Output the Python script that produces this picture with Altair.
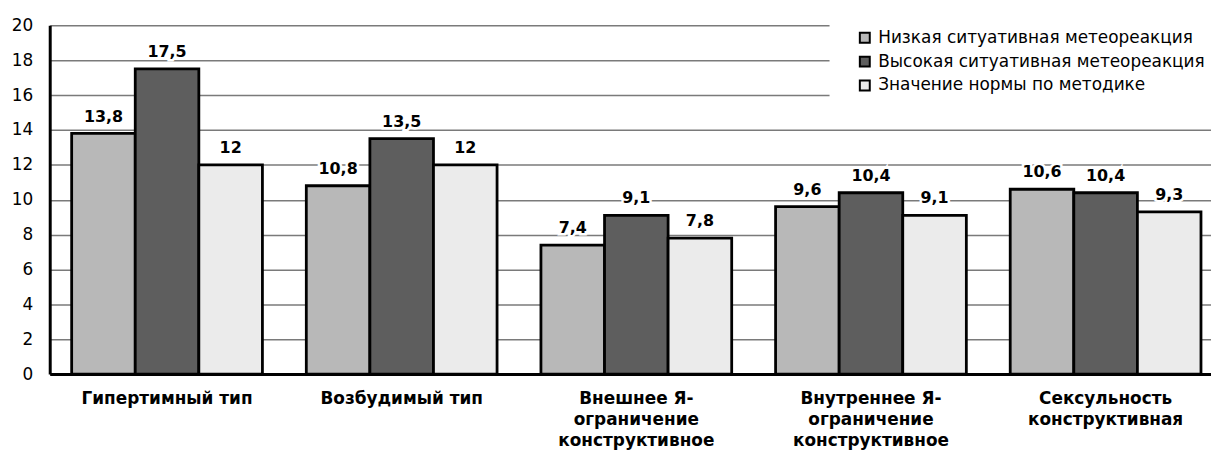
import altair as alt
import pandas as pd

categories = [
    "Гипертимный тип",
    "Возбудимый тип",
    "Внешнее Я-\nограничение\nконструктивное",
    "Внутреннее Я-\nограничение\nконструктивное",
    "Сексульность\nконструктивная",
]
series = [
    "Низкая ситуативная метеореакция",
    "Высокая ситуативная метеореакция",
    "Значение нормы по методике",
]
low = [13.8, 10.8, 7.4, 9.6, 10.6]
high = [17.5, 13.5, 9.1, 10.4, 10.4]
norm = [12, 12, 7.8, 9.1, 9.3]
y_ticks = [0, 2, 4, 6, 8, 10, 12, 14, 16, 18, 20]
fills = ["#b8b8b8", "#5e5e5e", "#ebebeb"]

rows = []
for s, vals in zip(series, [low, high, norm]):
    for c, v in zip(categories, vals):
        lab = ("%g" % v).replace(".", ",")
        rows.append({"cat": c, "series": s, "value": v, "label": lab})
df = pd.DataFrame(rows)

FONT = "DejaVu Sans"

x_enc = alt.X(
    "cat:N",
    sort=categories,
    scale=alt.Scale(range=[0, 1181], paddingInner=0.187, paddingOuter=0.0935),
    axis=alt.Axis(
        title=None,
        labelAngle=0,
        labelFont=FONT,
        labelFontSize=17,
        labelFontWeight="bold",
        labelColor="black",
        labelLineHeight=21,
        labelPadding=17,
        labelLimit=400,
        labelExpr="split(datum.label, '\\n')",
        ticks=False,
        domainColor="black",
        domainWidth=3,
        grid=False,
    ),
)
xoff = alt.XOffset("series:N", sort=series, scale=alt.Scale(paddingInner=0, paddingOuter=0))
y_enc = alt.Y(
    "value:Q",
    scale=alt.Scale(domain=[0, 20], nice=False, zero=True),
    axis=alt.Axis(
        title=None,
        values=y_ticks,
        tickCount=11,
        labelOverlap=False,
        labelFont=FONT,
        labelFontSize=17,
        labelColor="black",
        labelPadding=17,
        ticks=False,
        domainColor="black",
        domainWidth=3,
        gridColor="#7a7a7a",
        gridWidth=1.5,
    ),
)

base = alt.Chart(df).encode(x=x_enc, xOffset=xoff, y=y_enc)

bars = base.mark_bar(stroke="black", strokeWidth=2.8).encode(
    fill=alt.Fill(
        "series:N",
        sort=series,
        scale=alt.Scale(domain=series, range=fills),
        legend=alt.Legend(
            title=None,
            orient="none",
            legendX=785,
            legendY=-16,
            fillColor="white",
            padding=20,
            symbolOffset=7,
            symbolType="square",
            symbolSize=100,
            symbolStrokeColor="black",
            symbolStrokeWidth=2,
            labelFont=FONT,
            labelFontSize=17,
            labelColor="black",
            labelLimit=400,
            labelOffset=5,
            rowPadding=5,
        ),
    ),
)

halo = base.mark_text(
    font=FONT, fontSize=16, fontWeight="bold", dy=-12, baseline="alphabetic",
    color="white", stroke="white", strokeWidth=5,
).encode(text="label:N")

text = base.mark_text(
    font=FONT, fontSize=16, fontWeight="bold", dy=-12, baseline="alphabetic", color="black",
).encode(text="label:N")

chart = (
    alt.layer(bars, halo, text)
    .properties(
        width=1169,
        height=351,
        autosize=alt.AutoSizeParams(type="none"),
        padding={"left": 42, "top": 16, "right": 0, "bottom": 80},
        background="white",
    )
    .configure_view(stroke=None)
)

chart.save("out.html", embed_options={"renderer": "svg", "actions": False})
